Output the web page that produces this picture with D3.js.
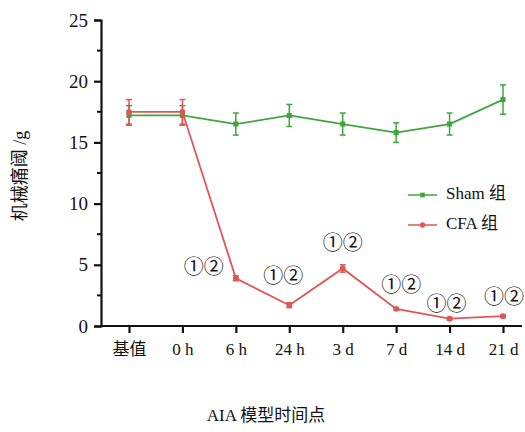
<!DOCTYPE html>
<html>
<head>
<meta charset="utf-8">
<script src="https://cdn.jsdelivr.net/npm/d3@7"></script>
<style>
  body { margin: 0; background: #fff; }
  text { font-family: "Liberation Serif", "Noto Sans CJK SC", serif; }
</style>
</head>
<body>
<div class="chart"></div>
<script>
// time points along the x axis
var timePoints = ["基值", "0 h", "6 h", "24 h", "3 d", "7 d", "14 d", "21 d"];

// Sham group mean and error
var shamValues = [17.2, 17.2, 16.5, 17.2, 16.5, 15.8, 16.5, 18.5];
var shamErrors = [0.8, 0.8, 0.9, 0.9, 0.9, 0.8, 0.9, 1.2];

// CFA group mean and error
var cfaValues = [17.5, 17.5, 3.9, 1.7, 4.7, 1.4, 0.6, 0.8];
var cfaErrors = [1.0, 1.0, 0.2, 0.2, 0.3, 0.1, 0.1, 0.1];

// significance marks above CFA points
var sigLabels = ["", "", "①②", "①②", "①②", "①②", "①②", "①②"];

var yTicks = [0, 5, 10, 15, 20, 25];

var width = 525, height = 432;
var margin = { top: 20, right: 3, bottom: 106, left: 101 };

var svg = d3.select(".chart").append("svg")
  .attr("width", width)
  .attr("height", height);

var xScale = d3.scalePoint()
  .domain(timePoints)
  .range([129, 503]);

var yScale = d3.scaleLinear()
  .domain([0, 25])
  .range([height - margin.bottom, margin.top]);

var green = "#3fa63f", red = "#e05656";

// y axis
var yAxis = d3.axisLeft(yScale).tickValues(yTicks).tickSize(7).tickPadding(6);
var gy = svg.append("g")
  .attr("transform", "translate(" + margin.left + ",0)")
  .call(yAxis);
gy.selectAll(".tick text").style("font-size", "19px").attr("fill", "#111");
// minor ticks
gy.selectAll(".minor")
  .data([2.5, 7.5, 12.5, 17.5, 22.5])
  .enter().append("line")
  .attr("x1", -4).attr("x2", 0)
  .attr("y1", d => yScale(d)).attr("y2", d => yScale(d))
  .attr("stroke", "#111").attr("stroke-width", 2);

// x axis
var xAxis = d3.axisBottom(xScale).tickSize(7).tickPadding(10);
var gx = svg.append("g")
  .attr("transform", "translate(0," + yScale(0) + ")")
  .call(xAxis);
gx.select(".domain").attr("d", "M" + margin.left + ",0H" + (width - margin.right));
gx.selectAll(".tick text").style("font-size", "17px").attr("fill", "#111");

svg.selectAll(".domain, .tick line")
  .attr("stroke", "#111").attr("stroke-width", 2.2);

// draws one series with error bars
function drawSeries(values, errors, color, markerShape) {
  var g = svg.append("g");
  g.append("path")
    .datum(values)
    .attr("fill", "none")
    .attr("stroke", color)
    .attr("stroke-width", 1.8)
    .attr("d", d3.line()
      .x((d, i) => xScale(timePoints[i]))
      .y(d => yScale(d)));

  var eb = g.selectAll(".err").data(values).enter().append("g")
    .attr("stroke", color).attr("stroke-width", 1.5);
  eb.append("line")
    .attr("x1", (d, i) => xScale(timePoints[i])).attr("x2", (d, i) => xScale(timePoints[i]))
    .attr("y1", (d, i) => yScale(d + errors[i])).attr("y2", (d, i) => yScale(d - errors[i]));
  eb.append("line")
    .attr("x1", (d, i) => xScale(timePoints[i]) - 3).attr("x2", (d, i) => xScale(timePoints[i]) + 3)
    .attr("y1", (d, i) => yScale(d + errors[i])).attr("y2", (d, i) => yScale(d + errors[i]));
  eb.append("line")
    .attr("x1", (d, i) => xScale(timePoints[i]) - 3).attr("x2", (d, i) => xScale(timePoints[i]) + 3)
    .attr("y1", (d, i) => yScale(d - errors[i])).attr("y2", (d, i) => yScale(d - errors[i]));

  g.selectAll(".pt").data(values).enter().append("path")
    .attr("transform", (d, i) => "translate(" + xScale(timePoints[i]) + "," + yScale(d) + ")")
    .attr("d", d3.symbol().type(markerShape).size(26))
    .attr("fill", color);
}

drawSeries(shamValues, shamErrors, green, d3.symbolSquare);
drawSeries(cfaValues, cfaErrors, red, d3.symbolCircle);

// significance labels
var sigOffsets = [[0, 0], [0, 0], [-32, -10], [-6, -28], [0, -24], [5, -22], [-3, -13], [1, -18]];
svg.selectAll(".sig").data(cfaValues).enter().append("text")
  .attr("x", (d, i) => xScale(timePoints[i]) + sigOffsets[i][0])
  .attr("y", (d, i) => yScale(d) + sigOffsets[i][1])
  .attr("text-anchor", "middle")
  .attr("dominant-baseline", "middle")
  .style("font-family", "'Noto Sans CJK SC', sans-serif")
  .style("font-size", "20px")
  .attr("fill", "#111")
  .text((d, i) => sigLabels[i]);

// legend
var legendItems = [
  { name: "Sham 组", color: green, shape: d3.symbolSquare },
  { name: "CFA 组", color: red, shape: d3.symbolCircle }
];
var legend = svg.selectAll(".legend").data(legendItems).enter().append("g")
  .attr("transform", (d, i) => "translate(408," + (195 + i * 30) + ")");
legend.append("line")
  .attr("x1", 0).attr("x2", 29)
  .attr("stroke", d => d.color).attr("stroke-width", 1.5);
legend.append("path")
  .attr("transform", "translate(14.5,0)")
  .attr("d", d => d3.symbol().type(d.shape).size(22)())
  .attr("fill", d => d.color);
legend.append("text")
  .attr("x", 38).attr("y", 0)
  .attr("dominant-baseline", "middle")
  .style("font-size", "17px")
  .attr("fill", "#111")
  .text(d => d.name);

// axis titles
svg.append("text")
  .attr("transform", "translate(22," + 176 + ") rotate(-90)")
  .attr("text-anchor", "middle")
  .attr("dominant-baseline", "middle")
  .style("font-size", "18px")
  .attr("fill", "#111")
  .text("机械痛阈 /g");

svg.append("text")
  .attr("x", 266).attr("y", 421)
  .attr("text-anchor", "middle")
  .style("font-size", "17px")
  .attr("fill", "#111")
  .text("AIA 模型时间点");
</script>
</body>
</html>
